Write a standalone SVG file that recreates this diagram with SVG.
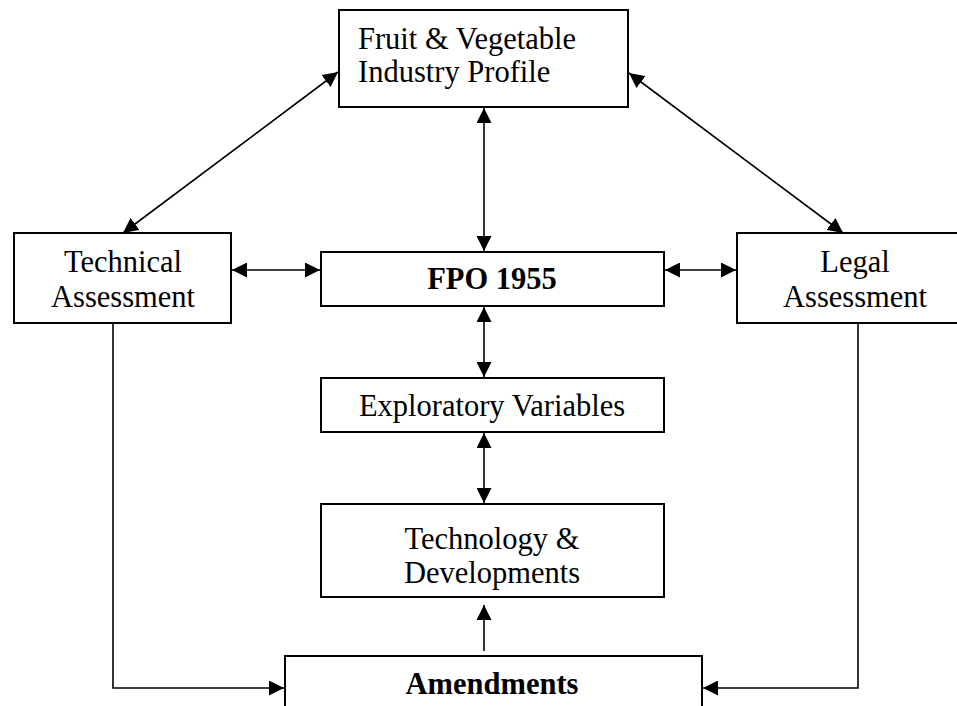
<svg xmlns="http://www.w3.org/2000/svg" width="957" height="706" viewBox="0 0 957 706">
<style>
.box{fill:#fff;stroke:#000;stroke-width:2}
.t{font-family:"Liberation Serif","Times New Roman",serif;font-size:30.5px;fill:#000}
.c{text-anchor:middle}
.b{font-weight:bold}
.ln{fill:none;stroke:#000;stroke-width:1.6}
</style>
<defs>
<marker id="ah" markerUnits="userSpaceOnUse" markerWidth="15" markerHeight="15" viewBox="0 0 15 15" refX="15" refY="7.5" orient="auto-start-reverse">
<path d="M0,0 L15,7.5 L0,15 z" fill="#000"/>
</marker>
</defs>
<rect width="957" height="706" fill="#fff"/>
<g id="connectors">
<line class="ln" x1="484" y1="108" x2="484" y2="251" marker-start="url(#ah)" marker-end="url(#ah)"/>
<line class="ln" x1="338" y1="72" x2="123" y2="233" marker-start="url(#ah)" marker-end="url(#ah)"/>
<line class="ln" x1="629" y1="73" x2="843" y2="233" marker-start="url(#ah)" marker-end="url(#ah)"/>
<line class="ln" x1="232" y1="270" x2="320" y2="270" marker-start="url(#ah)" marker-end="url(#ah)"/>
<line class="ln" x1="665" y1="270" x2="736" y2="270" marker-start="url(#ah)" marker-end="url(#ah)"/>
<line class="ln" x1="484" y1="307" x2="484" y2="377" marker-start="url(#ah)" marker-end="url(#ah)"/>
<line class="ln" x1="484" y1="433" x2="484" y2="503" marker-start="url(#ah)" marker-end="url(#ah)"/>
<line class="ln" x1="484" y1="651" x2="484" y2="605" marker-end="url(#ah)"/>
<polyline class="ln" points="113,324 113,688 284,688" marker-end="url(#ah)"/>
<polyline class="ln" points="858,324 858,688 703,688" marker-end="url(#ah)"/>
</g>
<g id="profile">
<rect class="box" x="339" y="10" width="289" height="97"/>
<text class="t" x="358" y="49">Fruit &amp; Vegetable</text>
<text class="t" x="358" y="82">Industry Profile</text>
</g>
<g id="technical">
<rect class="box" x="14" y="233" width="217" height="90"/>
<text class="t c" x="123" y="272">Technical</text>
<text class="t c" x="123" y="307">Assessment</text>
</g>
<g id="fpo">
<rect class="box" x="321" y="252" width="343" height="54"/>
<text class="t c b" x="492" y="289">FPO 1955</text>
</g>
<g id="legal">
<rect class="box" x="737" y="233" width="240" height="90"/>
<text class="t c" x="855" y="272">Legal</text>
<text class="t c" x="855" y="307">Assessment</text>
</g>
<g id="exploratory">
<rect class="box" x="321" y="378" width="343" height="54"/>
<text class="t c" x="492" y="416">Exploratory Variables</text>
</g>
<g id="technology">
<rect class="box" x="321" y="504" width="343" height="93"/>
<text class="t c" x="492" y="549">Technology &amp;</text>
<text class="t c" x="492" y="583">Developments</text>
</g>
<g id="amendments">
<rect class="box" x="285" y="656" width="417" height="70"/>
<text class="t c b" x="492" y="694">Amendments</text>
</g>
</svg>
